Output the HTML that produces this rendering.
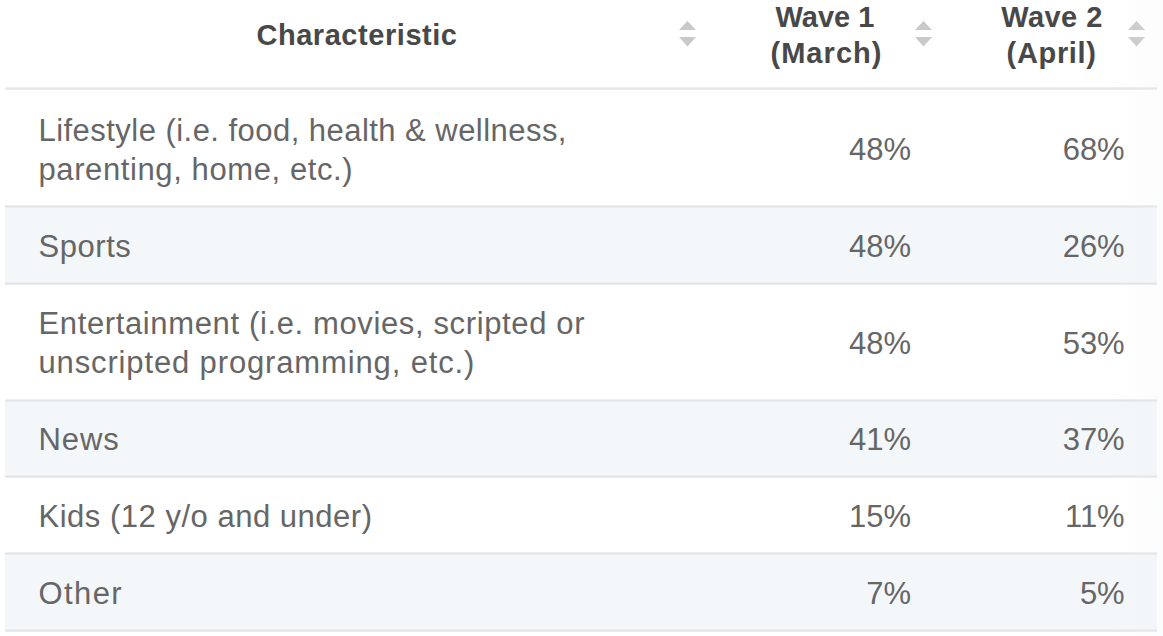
<!DOCTYPE html>
<html>
<head>
<meta charset="utf-8">
<style>
html,body{margin:0;padding:0;}
body{width:1163px;height:636px;overflow:hidden;position:relative;background:#fff;font-family:"Liberation Sans",sans-serif;}
.abs{position:absolute;white-space:nowrap;}
.hd{font-weight:700;font-size:29px;line-height:35px;color:#484848;text-align:center;}
.tx{font-size:31px;line-height:39px;color:#666666;}
.num{font-size:31px;line-height:39px;color:#666666;text-align:right;width:150px;}
.c1{left:761px;margin-top:-0.5px;}
.c2{left:974.7px;margin-top:-0.5px;}
.bg{position:absolute;left:5px;width:1152px;background:#f3f7fa;}
.bd{position:absolute;left:5px;width:1152px;height:3px;background:linear-gradient(to bottom,#eceef0 0,#eceef0 1px,#e3e4e7 1px,#e3e4e7 2px,#eaebee 2px);}
.sort{position:absolute;width:17px;height:26px;}
.shade{position:absolute;left:1115px;top:0;width:48px;height:636px;background:linear-gradient(to right,rgba(240,242,245,0),rgba(238,240,244,0.22));}
</style>
</head>
<body>
<div class="bg" style="top:208px;height:74px"></div>
<div class="bg" style="top:401px;height:74px"></div>
<div class="bg" style="top:555px;height:74px"></div>
<div class="bd" style="top:87px;height:3px;background:linear-gradient(to bottom,#eeeeee 0,#eeeeee 1px,#e5e5e5 1px,#e5e5e5 2px,#ececec 2px)"></div>
<div class="bd" style="top:205px"></div>
<div class="bd" style="top:282px"></div>
<div class="bd" style="top:399px"></div>
<div class="bd" style="top:475px"></div>
<div class="bd" style="top:552px"></div>
<div class="bd" style="top:629px"></div>

<div class="abs hd" style="left:157px;width:400px;top:17.7px;letter-spacing:0.55px">Characteristic</div>
<div class="abs hd" style="left:725px;width:200px;top:0.3px">Wave 1</div>
<div class="abs hd" style="left:726.5px;width:200px;top:35.6px;letter-spacing:1.05px">(March)</div>
<div class="abs hd" style="left:952px;width:200px;top:0.3px;letter-spacing:0.45px">Wave 2</div>
<div class="abs hd" style="left:951.6px;width:200px;top:35.6px;letter-spacing:0.67px">(April)</div>

<svg class="sort" style="left:679px;top:21px" viewBox="0 0 17 26"><path d="M8.5 0 L17 9 L0 9 Z M0 16 L17 16 L8.5 25.5 Z" fill="#c9c9c9"/></svg>
<svg class="sort" style="left:914.5px;top:21px" viewBox="0 0 17 26"><path d="M8.5 0 L17 9 L0 9 Z M0 16 L17 16 L8.5 25.5 Z" fill="#c9c9c9"/></svg>
<svg class="sort" style="left:1127.7px;top:21px" viewBox="0 0 17 26"><path d="M8.5 0 L17 9 L0 9 Z M0 16 L17 16 L8.5 25.5 Z" fill="#c9c9c9"/></svg>

<div class="abs tx" style="left:38.5px;top:111px;letter-spacing:0.46px">Lifestyle (i.e. food, health &amp; wellness,</div>
<div class="abs tx" style="left:38.5px;top:150px;letter-spacing:0.6px">parenting, home, etc.)</div>
<div class="abs num c1" style="top:130px">48%</div>
<div class="abs num c2" style="top:130px">68%</div>

<div class="abs tx" style="left:38.5px;top:227px;letter-spacing:0.55px">Sports</div>
<div class="abs num c1" style="top:227px">48%</div>
<div class="abs num c2" style="top:227px">26%</div>

<div class="abs tx" style="left:38.5px;top:304px;letter-spacing:0.63px">Entertainment (i.e. movies, scripted or</div>
<div class="abs tx" style="left:38.5px;top:343px;letter-spacing:0.86px">unscripted programming, etc.)</div>
<div class="abs num c1" style="top:324px">48%</div>
<div class="abs num c2" style="top:324px">53%</div>

<div class="abs tx" style="left:38.5px;top:420px;letter-spacing:0.9px">News</div>
<div class="abs num c1" style="top:420px">41%</div>
<div class="abs num c2" style="top:420px">37%</div>

<div class="abs tx" style="left:38.5px;top:497px;letter-spacing:0.51px">Kids (12 y/o and under)</div>
<div class="abs num c1" style="top:497px">15%</div>
<div class="abs num c2" style="top:497px">11%</div>

<div class="abs tx" style="left:38.5px;top:574px;letter-spacing:1.4px">Other</div>
<div class="abs num c1" style="top:574px">7%</div>
<div class="abs num c2" style="top:574px">5%</div>

<div class="shade"></div>
</body>
</html>
